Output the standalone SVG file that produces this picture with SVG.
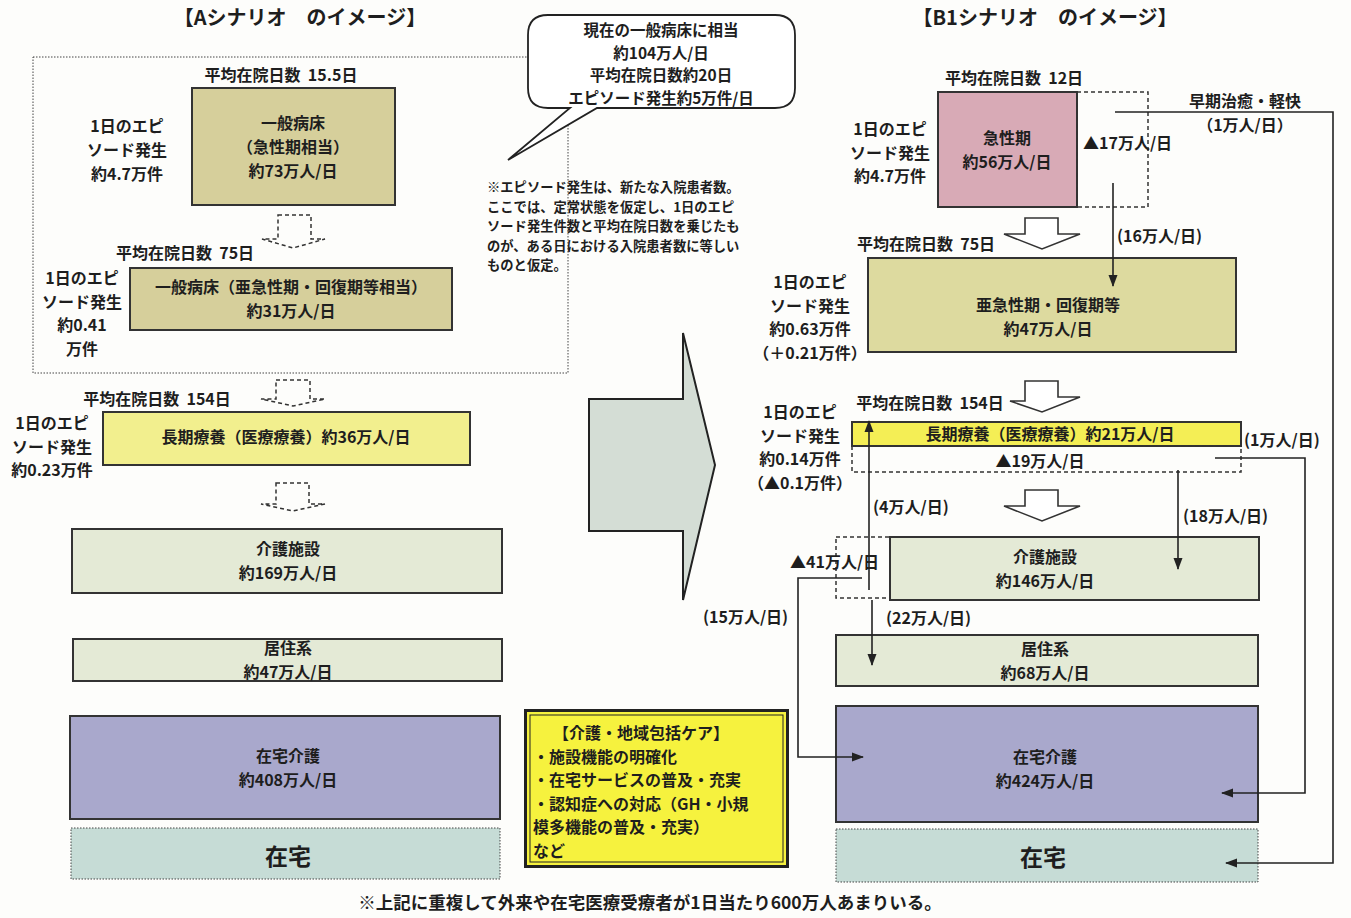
<svg xmlns="http://www.w3.org/2000/svg" width="1351" height="918" viewBox="0 0 1351 918">
<defs>
<style>
text{font-family:"Noto Sans CJK JP","Noto Sans",sans-serif;font-weight:bold;fill:#1e1e1e;}
.t{font-size:16px;}
.c{text-anchor:middle;}
.s{font-size:13.3px;}
.h{font-size:20px;}
.box{stroke:#333;stroke-width:2;}
.kh{fill:#d6cf9b;}
.kh2{fill:#ddda9f;}
.yl{fill:#f2ef8e;}
.yl2{fill:#f4ee55;}
.pk{fill:#d8aab6;}
.gr{fill:#e4ead6;}
.pu{fill:#a9a8cc;}
.tl{fill:#c6dcd6;}
.dash{fill:none;stroke:#333;stroke-width:1.5;stroke-dasharray:4 3;}
.dot{fill:none;stroke:#444;stroke-width:1;stroke-dasharray:1.5 1.5;}
.ln{fill:none;stroke:#222;stroke-width:1.6;}
.ha{fill:#fff;stroke:#333;stroke-width:1.6;}
</style>
<marker id="ah" markerWidth="12" markerHeight="10" refX="11" refY="5" orient="auto" markerUnits="userSpaceOnUse">
<path d="M0,0.5 L12,5 L0,9.5 Z" fill="#222"/>
</marker>
</defs>
<rect width="1351" height="918" fill="#fdfdfb"/>

<!-- Titles -->
<text class="h c" x="300" y="25">【Aシナリオ　のイメージ】</text>
<text class="h c" x="1045" y="25">【B1シナリオ　のイメージ】</text>

<!-- Left dotted frame -->
<rect class="dot" x="33" y="57" width="535" height="316"/>

<!-- Speech bubble -->
<g id="bubble">
<path d="M548,15 H775 Q795,15 795,35 V88 Q795,108 775,108 H597 L508,160 L570,108 H548 Q528,108 528,88 V35 Q528,15 548,15 Z" fill="#fff" stroke="#222" stroke-width="1.8"/>
<text class="c" style="font-size:15.5px"><tspan x="661" y="36">現在の一般病床に相当</tspan><tspan x="661" y="58.5">約104万人/日</tspan><tspan x="661" y="81">平均在院日数約20日</tspan><tspan x="661" y="103.5">エピソード発生約5万件/日</tspan></text>
</g>

<!-- Note -->
<g id="note">
<text class="s"><tspan x="487" y="192">※エピソード発生は、新たな入院患者数。</tspan><tspan x="487" y="211.5">ここでは、定常状態を仮定し、1日のエピ</tspan><tspan x="487" y="231">ソード発生件数と平均在院日数を乗じたも</tspan><tspan x="487" y="250.5">のが、ある日における入院患者数に等しい</tspan><tspan x="487" y="270">ものと仮定。</tspan></text>
</g>

<!-- LEFT SCENARIO -->
<g id="a-acute">
<text class="t c" x="281" y="81">平均在院日数&#160;&#160;15.5日</text>
<rect class="box kh" x="192" y="88" width="203" height="117"/>
<text class="t c"><tspan x="293" y="129">一般病床</tspan><tspan x="293" y="153">（急性期相当）</tspan><tspan x="293" y="177">約73万人/日</tspan></text>
<text class="t c"><tspan x="127" y="132">1日のエピ</tspan><tspan x="127" y="156">ソード発生</tspan><tspan x="127" y="180">約4.7万件</tspan></text>
</g>

<g id="a-subacute">
<text class="t c" x="185" y="259">平均在院日数&#160;&#160;75日</text>
<rect class="box kh" x="130" y="268" width="322" height="62"/>
<text class="t c"><tspan x="291" y="293">一般病床（亜急性期・回復期等相当）</tspan><tspan x="291" y="317">約31万人/日</tspan></text>
<text class="t c"><tspan x="82" y="284">1日のエピ</tspan><tspan x="82" y="307.5">ソード発生</tspan><tspan x="82" y="331">約0.41</tspan><tspan x="82" y="354.5">万件</tspan></text>
</g>

<g id="a-longterm">
<text class="t c" x="157" y="405">平均在院日数&#160;&#160;154日</text>
<rect class="box yl" x="103" y="412" width="367" height="53"/>
<text class="t c" x="286" y="443">長期療養（医療療養）約36万人/日</text>
<text class="t c"><tspan x="52" y="429">1日のエピ</tspan><tspan x="52" y="452.5">ソード発生</tspan><tspan x="52" y="476">約0.23万件</tspan></text>
</g>

<g id="a-kaigo">
<rect class="box gr" x="72" y="529" width="430" height="64"/>
<text class="t c"><tspan x="288" y="555">介護施設</tspan><tspan x="288" y="579">約169万人/日</tspan></text>
</g>
<g id="a-kyoju">
<rect class="box gr" x="73" y="639" width="429" height="42"/>
<text class="t c"><tspan x="288" y="654">居住系</tspan><tspan x="288" y="677.5">約47万人/日</tspan></text>
</g>
<g id="a-zaitakukaigo">
<rect class="box pu" x="70" y="716" width="430" height="103"/>
<text class="t c"><tspan x="288" y="762">在宅介護</tspan><tspan x="288" y="786">約408万人/日</tspan></text>
</g>
<g id="a-zaitaku">
<rect class="tl" x="71" y="828" width="429" height="51" stroke="#444" stroke-width="1" stroke-dasharray="1.5 1.5"/>
<text class="c" x="288" y="865" style="font-size:23px">在宅</text>
</g>

<!-- Big arrow -->
<g id="big-arrow">
<path d="M589,399 H683 V333 L715,465 L683,600 V531 H589 Z" fill="#d4ddd5" stroke="#222" stroke-width="2"/>
</g>

<!-- Care box -->
<g id="care">
<rect x="524" y="709" width="265" height="159" fill="#222"/>
<rect x="527" y="712" width="259" height="153" fill="#f6f23e"/>
<rect x="530" y="715" width="253" height="147" fill="none" stroke="#222" stroke-width="1"/>
<text class="t"><tspan x="553" y="739">【介護・地域包括ケア】</tspan><tspan x="533" y="762.5">・施設機能の明確化</tspan><tspan x="533" y="786">・在宅サービスの普及・充実</tspan><tspan x="533" y="809.5">・認知症への対応（GH・小規</tspan><tspan x="533" y="833">模多機能の普及・充実）</tspan><tspan x="533" y="856.5">など</tspan></text>
</g>

<!-- RIGHT SCENARIO -->
<g id="b-acute">
<text class="t c" x="1014" y="84">平均在院日数&#160;&#160;12日</text>
<rect class="box pk" x="938" y="92" width="139" height="115"/>
<rect class="dash" x="1077" y="92" width="71" height="115"/>
<text class="t c"><tspan x="1007" y="144">急性期</tspan><tspan x="1007" y="168">約56万人/日</tspan></text>
<text class="t c"><tspan x="890" y="135">1日のエピ</tspan><tspan x="890" y="158.5">ソード発生</tspan><tspan x="890" y="182">約4.7万件</tspan></text>
<text class="t" x="1083" y="149">▲17万人/日</text>
<text class="t c"><tspan x="1245" y="107">早期治癒・軽快</tspan><tspan x="1245" y="131">（1万人/日）</tspan></text>
<text class="t" x="1117" y="242">(16万人/日)</text>
</g>

<g id="b-subacute">
<text class="t c" x="926" y="250">平均在院日数&#160;&#160;75日</text>
<rect class="box kh2" x="868" y="258" width="368" height="94"/>
<text class="t c"><tspan x="1048" y="311">亜急性期・回復期等</tspan><tspan x="1048" y="335">約47万人/日</tspan></text>
<text class="t c"><tspan x="810" y="288">1日のエピ</tspan><tspan x="810" y="311.5">ソード発生</tspan><tspan x="810" y="335">約0.63万件</tspan><tspan x="810" y="358.5">（＋0.21万件）</tspan></text>
</g>

<g id="b-longterm">
<text class="t c" x="930" y="409">平均在院日数&#160;&#160;154日</text>
<rect class="box yl2" x="852" y="422" width="389" height="24"/>
<rect class="dash" x="852" y="446" width="389" height="26"/>
<text class="t c" x="1050" y="440">長期療養（医療療養）約21万人/日</text>
<text class="t c" x="1040" y="467">▲19万人/日</text>
<text class="t c"><tspan x="800" y="418">1日のエピ</tspan><tspan x="800" y="441.5">ソード発生</tspan><tspan x="800" y="465">約0.14万件</tspan><tspan x="800" y="488.5">（▲0.1万件）</tspan></text>
<text class="t" x="1244" y="446">(1万人/日)</text>
<text class="t" x="873" y="513">(4万人/日)</text>
<text class="t" x="1183" y="522">(18万人/日)</text>
</g>

<g id="b-kaigo">
<rect class="dash" x="836" y="537" width="54" height="61"/>
<rect class="box gr" x="890" y="537" width="369" height="63"/>
<text class="t c"><tspan x="1045" y="563">介護施設</tspan><tspan x="1045" y="587">約146万人/日</tspan></text>
<text class="t" x="790" y="568">▲41万人/日</text>
<text class="t" x="703" y="623">(15万人/日)</text>
<text class="t" x="886" y="624">(22万人/日)</text>
</g>
<g id="b-kyoju">
<rect class="box gr" x="836" y="635" width="422" height="51"/>
<text class="t c"><tspan x="1045" y="655">居住系</tspan><tspan x="1045" y="678.5">約68万人/日</tspan></text>
</g>
<g id="b-zaitakukaigo">
<rect class="box pu" x="836" y="706" width="422" height="116"/>
<text class="t c"><tspan x="1045" y="763">在宅介護</tspan><tspan x="1045" y="787">約424万人/日</tspan></text>
</g>
<g id="b-zaitaku">
<rect class="tl" x="836" y="829" width="422" height="53" stroke="#444" stroke-width="1" stroke-dasharray="1.5 1.5"/>
<text class="c" x="1043" y="866" style="font-size:23px">在宅</text>
</g>

<!-- Connectors -->
<g id="connectors">
<path class="dash" d="M278,215 H311 V239 H325 L293,248 L262,239 H278 Z"/>
<path class="dash" d="M276,380 H310 V399 H325 L293,406 L261,399 H276 Z"/>
<path class="dash" d="M276,483 H309 V504 H325 L293,511 L261,504 H276 Z"/>
<path class="ha" d="M1025,218 H1058 V234 H1080 L1042,249 L1004,234 H1025 Z"/>
<path class="ha" d="M1025,381 H1058 V397 H1080 L1042,412 L1010,401 H1025 Z"/>
<path class="ha" d="M1025,490 H1058 V506 H1080 L1042,521 L1004,506 H1025 Z"/>
<polyline class="ln" points="1115,112 1333,112 1333,863 1226,863" marker-end="url(#ah)"/>
<line class="ln" x1="1113" y1="183" x2="1113" y2="286" marker-end="url(#ah)"/>
<polyline class="ln" points="1215,458 1305,458 1305,793 1222,793" marker-end="url(#ah)"/>
<line class="ln" x1="869" y1="590" x2="869" y2="421" marker-end="url(#ah)"/>
<line class="ln" x1="1178" y1="470" x2="1178" y2="569" marker-end="url(#ah)"/>
<polyline class="ln" points="862,578 798,578 798,757 863,757" marker-end="url(#ah)"/>
<line class="ln" x1="872" y1="600" x2="872" y2="665" marker-end="url(#ah)"/>
</g>

<!-- Footer -->
<text class="c" x="650" y="909" style="font-size:17.5px">※上記に重複して外来や在宅医療受療者が1日当たり600万人あまりいる。</text>
</svg>
